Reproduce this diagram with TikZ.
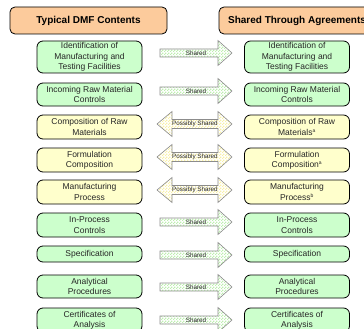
\documentclass[tikz,border=0pt]{standalone}
\usepackage{fontspec}
\setmainfont{Liberation Sans}
\usetikzlibrary{patterns}
\pgfdeclarepatternformonly{finechecker}{\pgfpointorigin}{\pgfqpoint{2.6pt}{2.6pt}}{\pgfqpoint{2.6pt}{2.6pt}}{%
  \pgfpathrectangle{\pgfpointorigin}{\pgfqpoint{1.35pt}{1.35pt}}%
  \pgfpathrectangle{\pgfqpoint{1.3pt}{1.3pt}}{\pgfqpoint{1.35pt}{1.35pt}}%
  \pgfusepath{fill}}
\definecolor{boxgreen}{HTML}{CCFFCC}
\definecolor{boxyellow}{HTML}{FFFFCC}
\definecolor{hdrorange}{HTML}{FCCB9C}
\definecolor{chkgreen}{HTML}{BEEFB0}
\definecolor{chkyellow}{HTML}{F8F0A8}
\definecolor{arrline}{HTML}{8C8C8C}
\begin{document}
\begin{tikzpicture}[x=1pt,y=-1pt,
  box/.style={draw=black, line width=0.8pt, rounded corners=6pt, align=center, inner sep=0pt,
    minimum width=105pt, text=black!85, font=\fontsize{8.5}{10.3}\selectfont},
  gbox/.style={box, fill=boxgreen},
  ybox/.style={box, fill=boxyellow},
  hdr/.style={draw=black, line width=0.8pt, rounded corners=5pt, fill=hdrorange, inner sep=0pt,
    minimum height=27pt, font=\bfseries\fontsize{10}{12}\selectfont},
  sarrow/.style={draw=arrline, line width=0.6pt, preaction={fill=white}, pattern=finechecker, pattern color=chkgreen},
  darrow/.style={draw=arrline, line width=0.6pt, preaction={fill=white}, pattern=finechecker, pattern color=chkyellow},
  lbl/.style={inner sep=0pt, font=\fontsize{6.3}{7}\selectfont, text=black!85}]
\useasboundingbox (0,0) rectangle (364,329);
\clip (0,0) rectangle (364,329);

% headers
\node[hdr, minimum width=157pt] (H1) at (88.5,20.5) {Typical DMF Contents};
\node[hdr, minimum width=156pt] (H2) at (297,20.5) {Shared Through Agreements};

% left column
\node[gbox, minimum height=32pt] (L1) at (89.5,57) {Identification of\\Manufacturing and\\Testing Facilities};
\node[gbox, minimum height=23pt] (L2) at (89.5,94.5) {Incoming Raw Material\\Controls};
\node[ybox, minimum height=24pt] (L3) at (89.5,127) {Composition of Raw\\Materials};
\node[ybox, minimum height=24pt] (L4) at (89.5,160) {Formulation\\Composition};
\node[ybox, minimum height=24pt] (L5) at (89.5,192) {Manufacturing\\Process};
\node[gbox, minimum height=24pt] (L6) at (89.5,225) {In-Process\\Controls};
\node[gbox, minimum height=16pt] (L7) at (89.5,254) {Specification};
\node[gbox, minimum height=23pt] (L8) at (89.5,286.5) {Analytical\\Procedures};
\node[gbox, minimum height=24pt] (L9) at (89.5,320) {Certificates of\\Analysis};

% right column
\node[gbox, minimum height=32pt] (R1) at (297,57) {Identification of\\Manufacturing and\\Testing Facilities};
\node[gbox, minimum height=23pt] (R2) at (297,94.5) {Incoming Raw Material\\Controls};
\node[ybox, minimum height=24pt] (R3) at (297,127) {Composition of Raw\\Materials\textsuperscript{\tiny a}};
\node[ybox, minimum height=24pt] (R4) at (297,160) {Formulation\\Composition\textsuperscript{\tiny a}};
\node[ybox, minimum height=24pt] (R5) at (297,192) {Manufacturing\\Process\textsuperscript{\tiny b}};
\node[gbox, minimum height=24pt] (R6) at (297,225) {In-Process\\Controls};
\node[gbox, minimum height=16pt] (R7) at (297,254) {Specification};
\node[gbox, minimum height=23pt] (R8) at (297,286.5) {Analytical\\Procedures};
\node[gbox, minimum height=24pt] (R9) at (297,320) {Certificates of\\Analysis};

% shared arrows
\foreach \n/\yy in {1/53, 2/91, 6/222, 7/255, 8/287, 9/320} {
  \path[sarrow, shift={(0,\yy)}] (160,-4) -- (218,-4) -- (218,-12.5) -- (232,0) -- (218,12.5) -- (218,4) -- (160,4) -- cycle;
  \node[lbl] (A\n) at (196,\yy) {Shared};
}
% possibly shared arrows
\foreach \n/\yy in {3/124, 4/157, 5/190} {
  \path[darrow, shift={(0,\yy)}] (157,0) -- (172,-12.5) -- (172,-4.5) -- (218,-4.5) -- (218,-12.5) -- (232,0) -- (218,12.5) -- (218,4.5) -- (172,4.5) -- (172,12.5) -- cycle;
  \node[lbl] (A\n) at (195,\yy) {Possibly Shared};
}
\end{tikzpicture}
\end{document}
